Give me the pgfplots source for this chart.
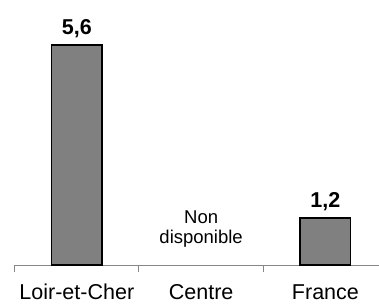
\documentclass[border=0pt]{standalone}
\usepackage{pgfplots}
\pgfplotsset{compat=1.18}
\usepackage{fontspec}
\setmainfont{Liberation Sans}
\definecolor{barfill}{RGB}{128,128,128}
\definecolor{axisgray}{RGB}{134,134,134}
\begin{document}
\begin{tikzpicture}
\begin{axis}[
  at={(14.7pt,38pt)}, anchor=south west,
  scale only axis,
  width=364.3pt, height=255.4pt,
  xmin=-0.5, xmax=2.431,
  ymin=0, ymax=6.5,
  clip=false,
  hide y axis,
  axis x line=bottom,
  axis line style={axisgray, line width=1pt, -},
  xtick={0,1,2},
  xticklabels={Loir-et-Cher,Centre,France},
  major tick length=0pt,
  extra x ticks={-0.5,0.5,1.5},
  extra x tick labels={},
  extra x tick style={major tick length=7pt, tick align=outside, tick style={axisgray, line width=1pt}},
  xticklabel style={anchor=base, yshift=-34pt, font=\fontsize{21.5}{25}\selectfont},
  ybar,
  bar width=50.6pt,
  nodes near coords={\textbf{\pgfmathprintnumber[use comma,fixed,fixed zerofill,precision=1,assume math mode=true]{\pgfplotspointmeta}}},
  nodes near coords style={font=\fontsize{21.5}{25}\selectfont, anchor=south, yshift=3pt},
]
\addplot[fill=barfill, draw=black, line width=1.4pt] coordinates {(0,5.6) (2,1.2)};
\node[anchor=south, inner sep=0pt, align=center, font=\fontsize{18.5}{20}\selectfont] at (axis cs:1,0.44) {Non\\disponible};
\end{axis}
\pgfresetboundingbox
\path[use as bounding box] (0,0) rectangle (379pt,303pt);
\end{tikzpicture}
\end{document}
